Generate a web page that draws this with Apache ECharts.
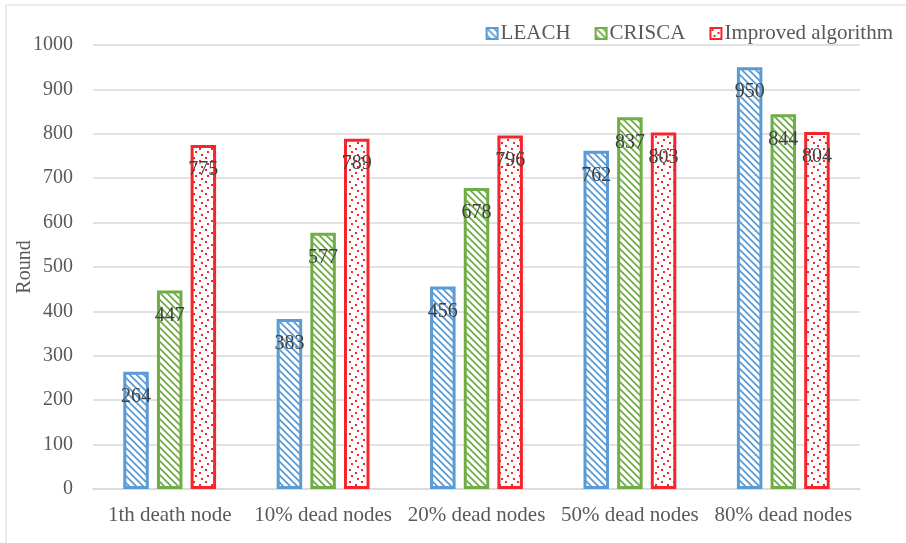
<!DOCTYPE html>
<html>
<head>
<meta charset="utf-8">
<script src="https://cdn.jsdelivr.net/npm/echarts@6/dist/echarts.min.js"></script>
<style>
  html, body { margin: 0; padding: 0; background: #fff; }
  #chart { width: 906px; height: 543px; }
</style>
</head>
<body>
<div id="chart"></div>
<script>
const categories = ['1th death node', '10% dead nodes', '20% dead nodes', '50% dead nodes', '80% dead nodes'];
const seriesNames = ['LEACH', 'CRISCA', 'Improved algorithm'];
const leach = [264, 383, 456, 762, 950];
const crisca = [447, 577, 678, 837, 844];
const improved = [775, 789, 796, 803, 804];
const yTicks = [0, 100, 200, 300, 400, 500, 600, 700, 800, 900, 1000];

const FONT = '"Liberation Serif", "Times New Roman", serif';

// diagonal hatch tile (top-left to bottom-right strokes)
function hatch(color) {
  const c = document.createElement('canvas');
  c.width = 7; c.height = 7;
  const g = c.getContext('2d');
  g.fillStyle = '#fff';
  g.fillRect(0, 0, 7, 7);
  g.strokeStyle = color;
  g.lineWidth = 1.8;
  g.beginPath();
  g.moveTo(-1, -1); g.lineTo(8, 8);
  g.moveTo(-8, -1); g.lineTo(1, 8);
  g.moveTo(6, -1); g.lineTo(15, 8);
  g.stroke();
  return c;
}

// scattered dot tile
function dots(color) {
  const c = document.createElement('canvas');
  c.width = 12; c.height = 12;
  const g = c.getContext('2d');
  g.fillStyle = '#fff';
  g.fillRect(0, 0, 12, 12);
  g.fillStyle = color;
  g.fillRect(1, 1, 2, 2);
  g.fillRect(7, 4, 2, 2);
  g.fillRect(3, 7, 2, 2);
  g.fillRect(9, 10, 2, 2);
  return c;
}

const colors = ['#5b9bd5', '#70ad47', '#f5262b'];
const fills = [hatch(colors[0]), hatch(colors[1]), dots(colors[2])];
const values = [leach, crisca, improved];

const chart = echarts.init(document.getElementById('chart'), null, { renderer: 'canvas' });

const series = seriesNames.map((name, i) => ({
  name: name,
  type: 'bar',
  data: values[i],
  barWidth: 25.5,
  barGap: '32%',
  itemStyle: {
    color: { image: fills[i], repeat: 'repeat' },
    borderColor: colors[i],
    borderWidth: 3
  },
  label: {
    show: true,
    position: 'insideTop',
    distance: 15,
    color: '#404040',
    fontFamily: FONT,
    fontSize: 20
  }
}));

chart.setOption({
  animation: false,
  backgroundColor: '#fff',
  graphic: [{
    type: 'rect',
    shape: { x: 6, y: 5, width: 910, height: 560 },
    style: { fill: 'none', stroke: '#d9d9d9', lineWidth: 1 },
    silent: true
  }],
  legend: {
    right: 8,
    top: 18,
    itemWidth: 11,
    itemHeight: 11,
    itemGap: 24,
    icon: 'rect',
    textStyle: { fontFamily: FONT, fontSize: 21, color: '#595959', padding: [0, 0, 0, -2] },
    data: seriesNames
  },
  grid: { left: 93, right: 46, top: 45, bottom: 54, outerBoundsMode: 'none', containLabel: false },
  xAxis: {
    type: 'category',
    data: categories,
    axisLine: { lineStyle: { color: '#d9d9d9', width: 1.5 } },
    axisTick: { show: false },
    axisLabel: { fontFamily: FONT, fontSize: 21, color: '#595959', margin: 16, interval: 0, hideOverlap: false }
  },
  yAxis: {
    type: 'value',
    min: yTicks[0],
    max: yTicks[yTicks.length - 1],
    interval: yTicks[1] - yTicks[0],
    name: 'Round',
    nameLocation: 'middle',
    nameGap: 58,
    nameMoveOverlap: false,
    nameTextStyle: { fontFamily: FONT, fontSize: 20, color: '#595959' },
    axisLine: { show: false },
    axisTick: { show: false },
    splitLine: { lineStyle: { color: '#d9d9d9', width: 1.5 } },
    axisLabel: {
      fontFamily: FONT, fontSize: 20, color: '#595959', margin: 20,
      formatter: v => String(v)
    }
  },
  series: series
});
</script>
</body>
</html>
